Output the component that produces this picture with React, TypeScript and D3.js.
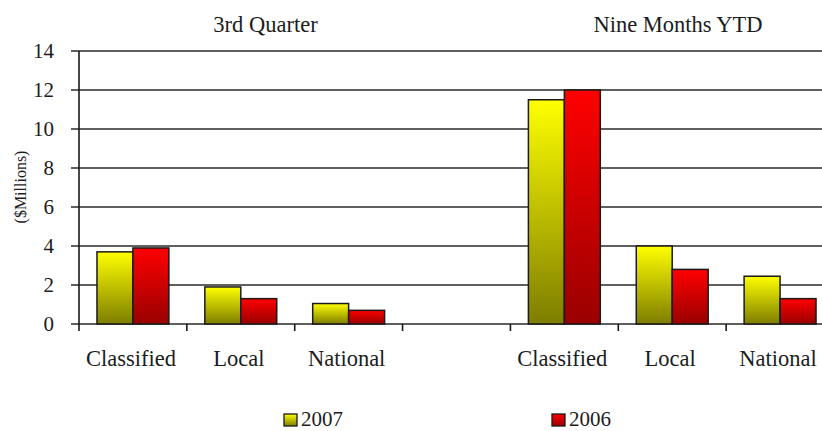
import React, { useEffect, useRef } from "react";
import * as d3 from "d3";

const categories = ["Classified", "Local", "National", "", "Classified", "Local", "National"];
const series = ["2007", "2006"];
const values2007: (number | null)[] = [3.7, 1.9, 1.05, null, 11.5, 4.0, 2.45];
const values2006: (number | null)[] = [3.9, 1.3, 0.7, null, 12.0, 2.8, 1.3];
const yTicks = [0, 2, 4, 6, 8, 10, 12, 14];
const groupTitles = ["3rd Quarter", "Nine Months YTD"];

const App: React.FC = () => {
  const svgRef = useRef<SVGSVGElement | null>(null);

  useEffect(() => {
    const width = 822;
    const height = 431;
    const left = 79;
    const right = 834;
    const top = 51;
    const bottom = 324;
    const font = "'Liberation Serif', 'Times New Roman', serif";
    const ink = "#1c1c1c";

    const svg = d3.select(svgRef.current).attr("width", width).attr("height", height);
    svg.selectAll("*").remove();

    // gradients for the bars
    const defs = svg.append("defs");
    const grads = [
      { id: "g2007", top: "#ffff00", bottom: "#7d7d00" },
      { id: "g2006", top: "#ff0000", bottom: "#990000" },
    ];
    grads.forEach((g) => {
      const lg = defs.append("linearGradient").attr("id", g.id).attr("x1", 0).attr("y1", 0).attr("x2", 0).attr("y2", 1);
      lg.append("stop").attr("offset", "0%").attr("stop-color", g.top);
      lg.append("stop").attr("offset", "100%").attr("stop-color", g.bottom);
    });

    const x = d3
      .scaleBand<number>()
      .domain(categories.map((_, i) => i))
      .range([left, right])
      .paddingInner(0)
      .paddingOuter(0);
    const x1 = d3.scaleBand<string>().domain(series).range([0, x.bandwidth()]).paddingInner(0).paddingOuter(0.5);
    const y = d3.scaleLinear().domain([0, 14]).range([bottom, top]);

    // gridlines + y ticks
    svg
      .append("g")
      .selectAll("line")
      .data(yTicks)
      .enter()
      .append("line")
      .attr("x1", left - 8)
      .attr("x2", width)
      .attr("y1", (d) => y(d))
      .attr("y2", (d) => y(d))
      .attr("stroke", "#2a2a2a")
      .attr("stroke-width", 1.6);

    svg
      .append("g")
      .selectAll("text")
      .data(yTicks)
      .enter()
      .append("text")
      .attr("x", 54)
      .attr("y", (d) => y(d))
      .attr("dy", "0.34em")
      .attr("text-anchor", "end")
      .style("font-family", font)
      .style("font-size", "21px")
      .attr("fill", ink)
      .text((d) => d);

    // y axis line
    svg
      .append("line")
      .attr("x1", left)
      .attr("x2", left)
      .attr("y1", top)
      .attr("y2", bottom + 7)
      .attr("stroke", "#1a1a1a")
      .attr("stroke-width", 1.6);

    // x ticks at band boundaries
    svg
      .append("g")
      .selectAll("line")
      .data(categories.map((_, i) => i).slice(1))
      .enter()
      .append("line")
      .attr("x1", (d) => x(d) as number)
      .attr("x2", (d) => x(d) as number)
      .attr("y1", bottom)
      .attr("y2", bottom + 7)
      .attr("stroke", "#1a1a1a")
      .attr("stroke-width", 1.6);

    // bars
    const seriesData = [
      { key: "2007", values: values2007 },
      { key: "2006", values: values2006 },
    ];
    seriesData.forEach((s) => {
      svg
        .append("g")
        .selectAll("rect")
        .data(s.values.map((v, i) => ({ v, i })).filter((d) => d.v !== null))
        .enter()
        .append("rect")
        .attr("x", (d) => (x(d.i) as number) + (x1(s.key) as number))
        .attr("y", (d) => y(d.v as number))
        .attr("width", x1.bandwidth())
        .attr("height", (d) => bottom - y(d.v as number))
        .attr("fill", `url(#g${s.key})`)
        .attr("stroke", "#1a1a1a")
        .attr("stroke-width", 1.5);
    });

    // category labels
    svg
      .append("g")
      .selectAll("text")
      .data(categories.map((c, i) => ({ c, i })))
      .enter()
      .append("text")
      .attr("x", (d) => (x(d.i) as number) + x.bandwidth() / 2 - 2)
      .attr("y", 366)
      .attr("text-anchor", "middle")
      .style("font-family", font)
      .style("font-size", "22.5px")
      .attr("fill", ink)
      .text((d) => d.c);

    // group titles
    const titleX = [265.5, 678];
    groupTitles.forEach((t, i) => {
      svg
        .append("text")
        .attr("x", titleX[i])
        .attr("y", 32)
        .attr("text-anchor", "middle")
        .style("font-family", font)
        .style("font-size", "22.5px")
        .attr("fill", ink)
        .text(t);
    });

    // y axis title
    svg
      .append("text")
      .attr("transform", `translate(26,187) rotate(-90)`)
      .attr("text-anchor", "middle")
      .style("font-family", font)
      .style("font-size", "16px")
      .attr("fill", ink)
      .text("($Millions)");

    // legend
    const legendX = [284, 552];
    series.forEach((s, i) => {
      const g = svg.append("g").attr("transform", `translate(${legendX[i]},414)`);
      g.append("rect")
        .attr("width", 13)
        .attr("height", 12)
        .attr("fill", `url(#g${s})`)
        .attr("stroke", "#1a1a1a")
        .attr("stroke-width", 1.3);
      g.append("text")
        .attr("x", 17)
        .attr("y", 12)
        .style("font-family", font)
        .style("font-size", "21px")
        .attr("fill", ink)
        .text(s);
    });
  }, []);

  return <svg ref={svgRef} style={{ position: "absolute", left: 0, top: 0, background: "#fff" }} />;
};

export default App;
